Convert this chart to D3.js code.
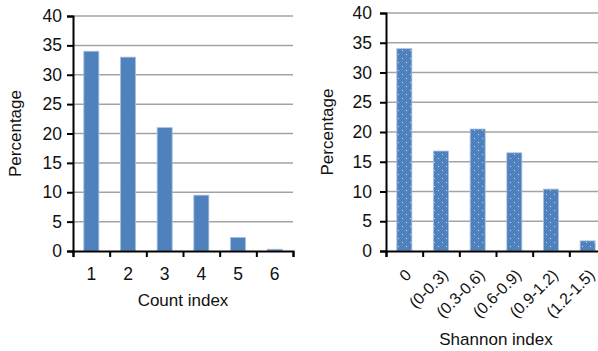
<!DOCTYPE html>
<html><head><meta charset="utf-8">
<script src="https://cdn.jsdelivr.net/npm/d3@7/dist/d3.min.js"></script>
<style>
body{margin:0;background:#fff;}
svg{display:block;font-family:"Liberation Sans",Arial,Helvetica,sans-serif;}
.tick text{font-size:17.5px;fill:#111;}
</style></head>
<body><svg id="c" width="598" height="351"></svg>
<script>
const countCats = ["1","2","3","4","5","6"];
const countVals = [34, 33, 21, 9.5, 2.3, 0.3];
const shannonCats = ["0","(0-0.3)","(0.3-0.6)","(0.6-0.9)","(0.9-1.2)","(1.2-1.5)"];
const shannonVals = [34, 16.8, 20.5, 16.5, 10.4, 1.7];
const yTicks = [0,5,10,15,20,25,30,35,40];

const svg = d3.select("#c");
const defs = svg.append("defs");
const pat = defs.append("pattern").attr("id","dots").attr("patternUnits","userSpaceOnUse")
  .attr("width",8).attr("height",8);
pat.append("rect").attr("width",8).attr("height",8).attr("fill","#4f81bd");
pat.append("rect").attr("x",2).attr("y",2).attr("width",1).attr("height",1).attr("fill","#c9d8ec");
pat.append("rect").attr("x",6).attr("y",6).attr("width",1).attr("height",1).attr("fill","#c9d8ec");

function panel(cfg){
  const g = svg.append("g");
  const x = d3.scaleBand().domain(cfg.cats).range([cfg.x0, cfg.x1]).paddingInner(0.59).paddingOuter(0.295);
  const xb = d3.scaleLinear().domain([0, cfg.cats.length]).range([cfg.x0, cfg.x1]);
  const y = d3.scaleLinear().domain([0,40]).range([cfg.y0, cfg.yTop]);
  g.append("g").selectAll("line").data(yTicks.filter(d=>d>0)).join("line")
    .attr("x1", cfg.x0).attr("x2", cfg.x1).attr("y1", d=>y(d)).attr("y2", d=>y(d))
    .attr("stroke","#a3a3a3").attr("stroke-width",1.5);
  g.append("g").selectAll("rect").data(cfg.vals).join("rect")
    .attr("x", (d,i)=>x(cfg.cats[i])).attr("width", x.bandwidth())
    .attr("y", d=>y(d)).attr("height", d=>y(0)-y(d))
    .attr("fill", cfg.fill).attr("stroke","#a9c1df").attr("stroke-width",0.8);
  const ya = g.append("g").attr("transform",`translate(${cfg.x0},0)`)
    .call(d3.axisLeft(y).tickValues(yTicks).tickSize(6).tickPadding(cfg.tp));
  ya.select(".domain").attr("stroke","#000").attr("stroke-width",2);
  ya.selectAll(".tick line").attr("stroke","#000").attr("stroke-width",2);
  const xa = g.append("g").attr("transform",`translate(0,${cfg.y0})`)
    .call(d3.axisBottom(xb).ticks(cfg.cats.length).tickSize(6).tickFormat(""));
  xa.select(".domain").attr("stroke","#000").attr("stroke-width",2);
  xa.selectAll(".tick line").attr("stroke","#000").attr("stroke-width",2);
  const lab = g.append("g").attr("transform",`translate(0,${cfg.y0})`)
    .call(d3.axisBottom(x).tickSize(0).tickPadding(cfg.rot ? 0 : 17));
  lab.select(".domain").remove();
  if(cfg.rot){
    lab.selectAll(".tick text").attr("text-anchor","end").attr("dy",0).attr("y",0)
      .style("font-size","16px")
      .attr("transform","translate(8,25) rotate(-45)");
  }
  g.append("text").attr("x", cfg.tx).attr("y", cfg.ty).attr("text-anchor","middle")
    .attr("font-size",17).attr("fill","#111").text(cfg.xTitle);
  g.append("text").attr("transform",`translate(${cfg.lx},${(cfg.y0+cfg.yTop)/2}) rotate(-90)`)
    .attr("text-anchor","middle").attr("font-size",17).attr("fill","#111").text("Percentage");
}

panel({cats:countCats, vals:countVals, x0:73, x1:293, y0:251, yTop:16, fill:"#4f81bd",
  tp:5, rot:false, xTitle:"Count index", tx:183, ty:306, lx:21});
panel({cats:shannonCats, vals:shannonVals, x0:386, x1:606, y0:251, yTop:13, fill:"url(#dots)",
  tp:8, rot:true, xTitle:"Shannon index", tx:496, ty:345, lx:333});
</script></body></html>
